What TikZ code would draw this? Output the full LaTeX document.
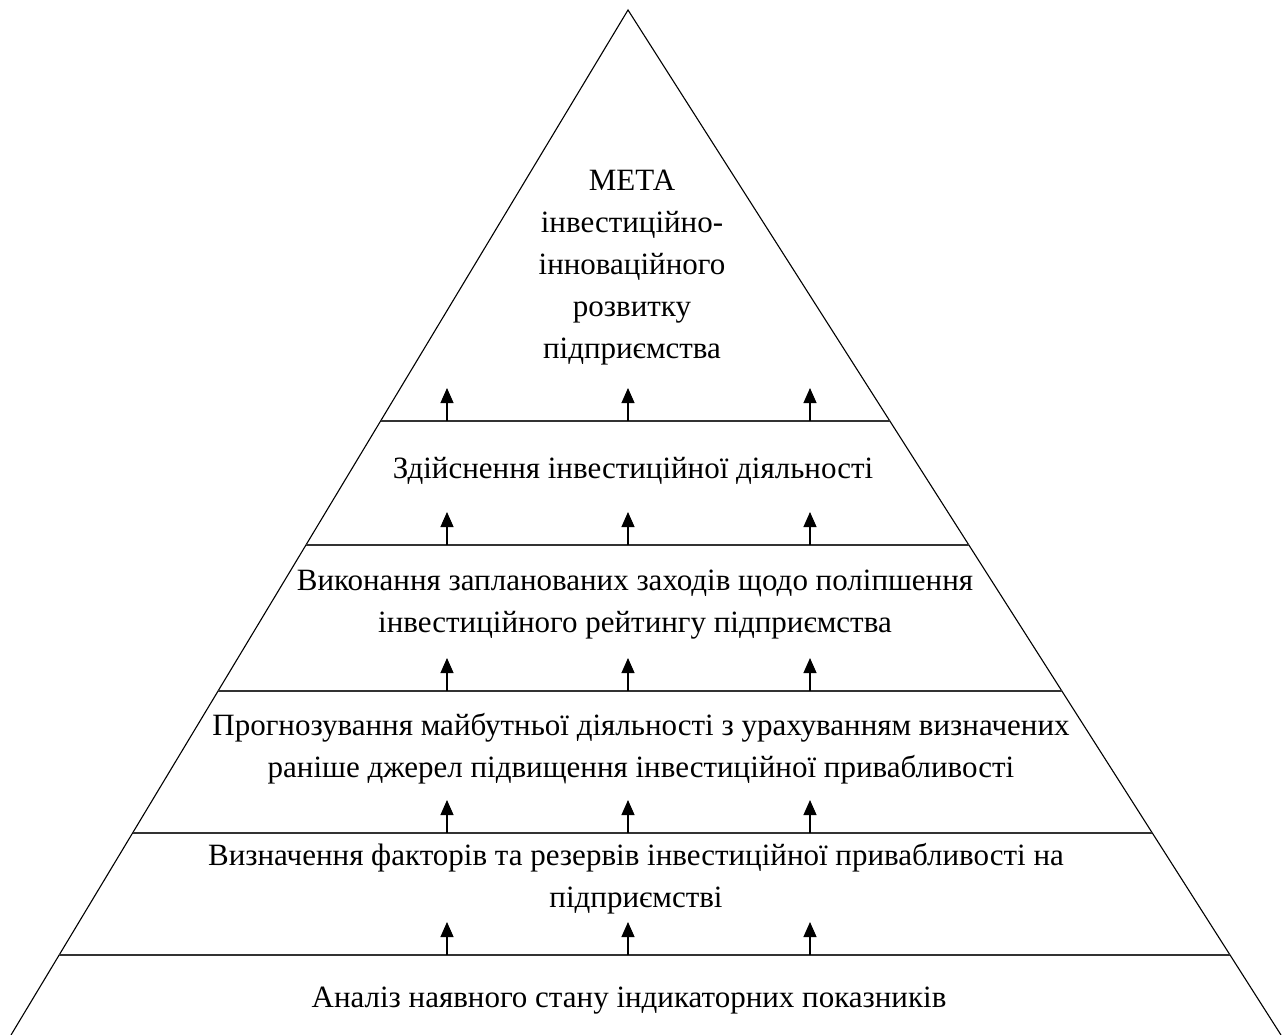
\documentclass[tikz,border=0pt]{standalone}
\usepackage{fontspec}
\setmainfont{Liberation Serif}
\usetikzlibrary{arrows.meta,calc}
\tikzset{
  level/.style={align=center, inner sep=0pt, font=\fontsize{31}{42}\selectfont},
  side/.style={line width=1.1pt},
  divider/.style={line width=1.7pt, black!80},
  up/.style={-{Triangle[length=15pt,width=13pt]}, line width=1.1pt},
}
\begin{document}
\begin{tikzpicture}[x=1pt, y=-1pt]
  \useasboundingbox (0,0) rectangle (1284,1035);
  \coordinate (apex) at (628,10);
  \coordinate (bl) at (11,1035);
  \coordinate (br) at (1281,1035);
  \draw[side] (bl) -- (apex) -- (br);
  % levels with three arrows each
  \foreach \y/\n in {421/1, 545/2, 691/3, 833/4, 955/5}{
    \draw[divider] ($(apex)!{(\y-10)/1025}!(bl)$) coordinate (l\n)
      -- ($(apex)!{(\y-10)/1025}!(br)$) coordinate (r\n);
    \foreach \x/\m in {447/a, 628/b, 810/c}{
      \coordinate (s\n\m) at (\x,\y);
      \draw[up] (s\n\m) -- ++(0,-33);
    }
  }
  \node[level] (goal) at (632,268) {МЕТА\\інвестиційно-\\інноваційного\\розвитку\\підприємства};
  \node[level] (doing) at (633,471) {Здійснення інвестиційної діяльності};
  \node[level] (rating) at (635,605) {Виконання запланованих заходів щодо поліпшення\\інвестиційного рейтингу підприємства};
  \node[level] (forecast) at (641,749) {Прогнозування майбутньої діяльності з урахуванням визначених\\раніше джерел підвищення інвестиційної привабливості};
  \node[level] (factors) at (636,879) {Визначення факторів та резервів інвестиційної привабливості на\\підприємстві};
  \node[level] (analysis) at (629,1001) {Аналіз наявного стану індикаторних показників};
\end{tikzpicture}
\end{document}
